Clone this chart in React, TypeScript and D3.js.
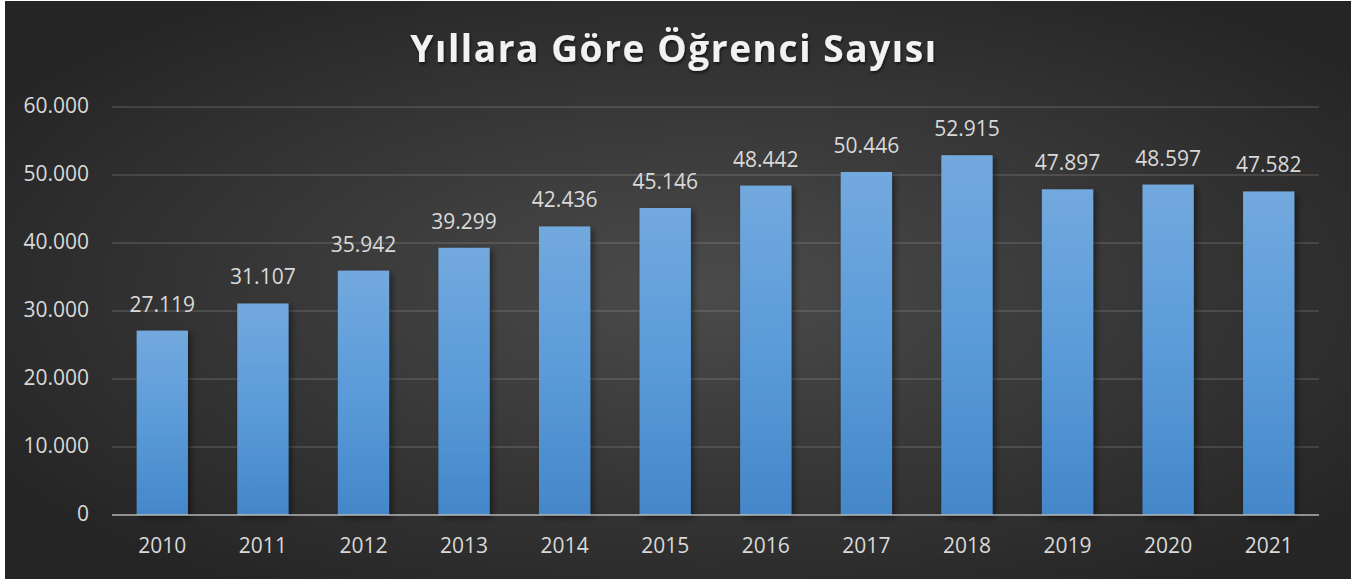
import React, { useEffect, useRef } from "react";
import * as d3 from "d3";

const years = ["2010","2011","2012","2013","2014","2015","2016","2017","2018","2019","2020","2021"];
const students = [27119, 31107, 35942, 39299, 42436, 45146, 48442, 50446, 52915, 47897, 48597, 47582];
const yTicks = [0, 10000, 20000, 30000, 40000, 50000, 60000];
const title = "Yıllara Göre Öğrenci Sayısı";

const W = 1351, H = 579;
const FONT = "'Open Sans', sans-serif";

export default function App() {
  const ref = useRef<SVGSVGElement>(null);
  useEffect(() => {
    const svg = d3.select(ref.current!);
    svg.selectAll("*").remove();
    const defs = svg.append("defs");
    const bg = defs.append("radialGradient").attr("id", "bg")
      .attr("cx", "52%").attr("cy", "50%").attr("r", "62%");
    bg.append("stop").attr("offset", "0%").attr("stop-color", "#4b4b4b");
    bg.append("stop").attr("offset", "100%").attr("stop-color", "#252525");
    const bar = defs.append("linearGradient").attr("id", "bar")
      .attr("x1", 0).attr("y1", 0).attr("x2", 0).attr("y2", 1);
    bar.append("stop").attr("offset", "0%").attr("stop-color", "#72a9de");
    bar.append("stop").attr("offset", "50%").attr("stop-color", "#5b9bd9");
    bar.append("stop").attr("offset", "100%").attr("stop-color", "#4487c9");
    const sh = defs.append("filter").attr("id", "sh").attr("x", "-20%").attr("y", "-5%").attr("width", "150%").attr("height", "115%");
    sh.append("feDropShadow").attr("dx", 3).attr("dy", 3).attr("stdDeviation", 3)
      .attr("flood-color", "#000").attr("flood-opacity", 0.45);
    const tsh = defs.append("filter").attr("id", "tsh");
    tsh.append("feDropShadow").attr("dx", 1).attr("dy", 2).attr("stdDeviation", 1.5)
      .attr("flood-color", "#000").attr("flood-opacity", 0.6);

    svg.append("rect").attr("width", W).attr("height", H).attr("fill", "#fff");
    svg.append("rect").attr("x", 5).attr("y", 1).attr("width", W - 5).attr("height", H - 1).attr("fill", "url(#bg)");

    const x = d3.scaleBand<string>().domain(years).range([112, 1319]).paddingInner(0.49).paddingOuter(0.245);
    const y = d3.scaleLinear().domain([0, 60000]).range([515, 107]);
    const loc = d3.formatLocale({ decimal: ",", thousands: ".", grouping: [3], currency: ["", "₺"] });
    const fmt = loc.format(",d");

    // gridlines
    svg.append("g").selectAll("line").data(yTicks.filter(t => t > 0)).join("line")
      .attr("x1", 112).attr("x2", 1319)
      .attr("y1", d => y(d)).attr("y2", d => y(d))
      .attr("stroke", "#d9d9d9").attr("stroke-opacity", 0.14).attr("stroke-width", 2);

    // y labels
    svg.append("g").selectAll("text").data(yTicks).join("text")
      .attr("x", 89).attr("y", d => y(d)).attr("dy", "0.3em")
      .attr("text-anchor", "end").attr("font-family", FONT).attr("font-size", 21)
      .attr("fill", "#d9d9d9").text(d => fmt(d));

    // bars
    svg.append("g").selectAll("rect").data(students).join("rect")
      .attr("x", (_, i) => x(years[i])!).attr("width", x.bandwidth())
      .attr("y", d => y(d)).attr("height", d => y(0) - y(d))
      .attr("fill", "url(#bar)").attr("filter", "url(#sh)");

    // axis line
    svg.append("line").attr("x1", 112).attr("x2", 1319).attr("y1", 515).attr("y2", 515)
      .attr("stroke", "#bfbfbf").attr("stroke-opacity", 0.7).attr("stroke-width", 2);

    // value labels
    svg.append("g").selectAll("text").data(students).join("text")
      .attr("x", (_, i) => x(years[i])! + x.bandwidth() / 2).attr("y", d => y(d) - 19)
      .attr("text-anchor", "middle").attr("font-family", FONT).attr("font-size", 21)
      .attr("fill", "#d9d9d9").text(d => fmt(d));

    // x labels
    svg.append("g").selectAll("text").data(years).join("text")
      .attr("x", d => x(d)! + x.bandwidth() / 2).attr("y", 553)
      .attr("text-anchor", "middle").attr("font-family", FONT).attr("font-size", 21)
      .attr("fill", "#d9d9d9").text(d => d);

    // title
    svg.append("text").attr("x", 674).attr("y", 62).attr("text-anchor", "middle")
      .attr("font-family", FONT).attr("font-weight", 700).attr("font-size", 37)
      .attr("letter-spacing", 1.6).attr("fill", "#f2f2f2").attr("filter", "url(#tsh)")
      .text(title);
  }, []);
  return (
    <svg ref={ref} width={W} height={H} style={{ position: "absolute", left: 0, top: 0, display: "block" }} />
  );
}
